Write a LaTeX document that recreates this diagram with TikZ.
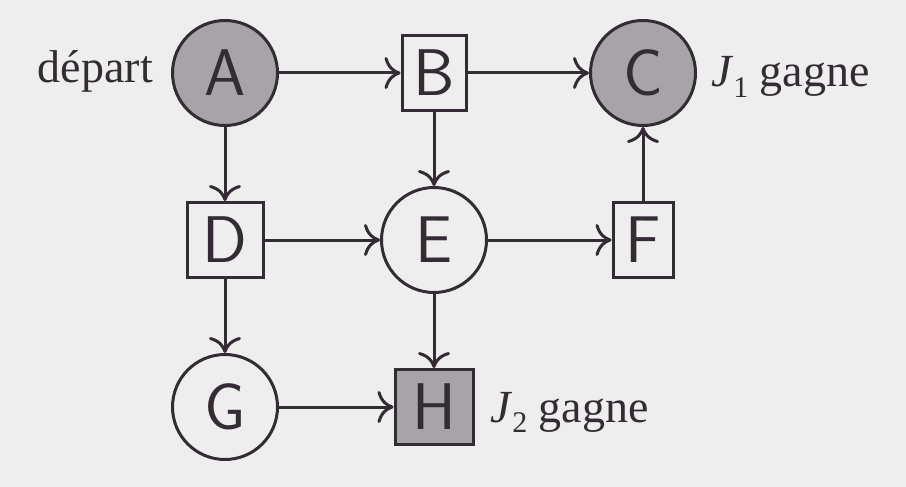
\documentclass[tikz,border=0pt]{standalone}
\usepackage{fontspec}
\newfontfamily\labelfont{Liberation Serif}
\usetikzlibrary{arrows.meta}
\definecolor{paper}{RGB}{239,238,238}
\definecolor{ink}{RGB}{52,44,52}
\definecolor{shade}{RGB}{166,164,167}
\newcommand{\player}[1]{\textit{J}\raisebox{-0.22em}{\fontsize{30}{30}\selectfont #1}}
\begin{document}
\begin{tikzpicture}[x=1pt,y=-1pt,
  state/.style={circle,draw=ink,line width=3pt,minimum size=105pt,inner sep=0pt,
    font=\fontsize{66}{66}\selectfont\sffamily,text=ink},
  box/.style={rectangle,draw=ink,line width=3pt,minimum height=75pt,inner sep=0pt,
    font=\fontsize{66}{66}\selectfont\sffamily,text=ink},
  win/.style={fill=shade},
  lbl/.style={inner sep=0pt,font=\fontsize{46}{46}\selectfont\labelfont,text=ink},
  arc/.style={draw=ink,line width=3pt,-{Computer Modern Rightarrow[length=16pt,width=32pt]}}]
\fill[paper] (0,0) rectangle (906,487);
\useasboundingbox (0,0) rectangle (906,487);

% game states: three columns, three rows
\node[state,win] (A) at (225,73) {A};
\node[box,minimum width=64pt] (B) at (434,73) {B};
\node[state,win] (C) at (643,73) {C};
\node[box,minimum width=76pt] (D) at (225,240) {D};
\node[state] (E) at (434,240) {E};
\node[box,minimum width=60pt] (F) at (643,240) {F};
\node[state] (G) at (225,407) {G};
\node[box,win,minimum width=78pt] (H) at (434,407) {H};

% moves
\draw[arc] (A) -- (B);
\draw[arc] (B) -- (C);
\draw[arc] (A) -- (D);
\draw[arc] (B) -- (E);
\draw[arc] (D) -- (E);
\draw[arc] (E) -- (F);
\draw[arc] (F) -- (C);
\draw[arc] (D) -- (G);
\draw[arc] (E) -- (H);
\draw[arc] (G) -- (H);

% annotations
\node[lbl,anchor=base east] (dep) at (153,83) {départ};
\node[lbl,anchor=base west] (j1) at (711,87) {\player{1} gagne};
\node[lbl,anchor=base west] (j2) at (490,422) {\player{2} gagne};
\end{tikzpicture}
\end{document}
